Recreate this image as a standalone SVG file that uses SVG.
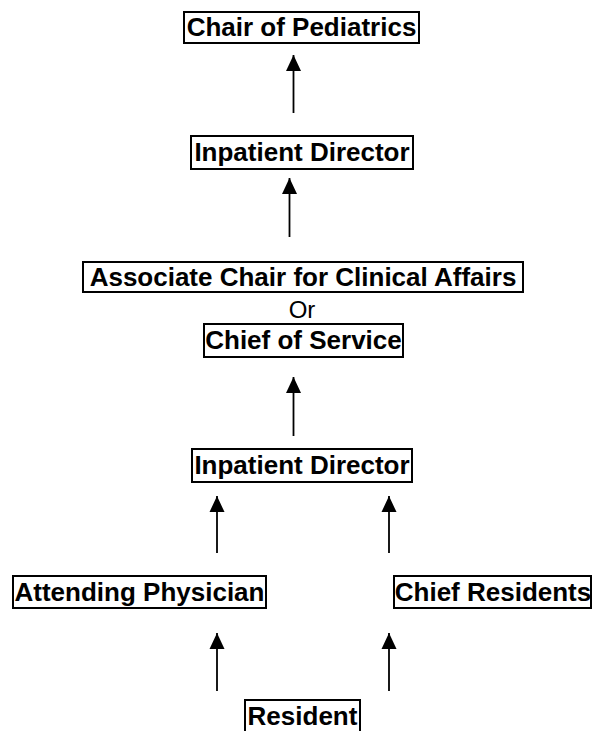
<svg xmlns="http://www.w3.org/2000/svg" width="592" height="731" viewBox="0 0 592 731">
<style>
.box{fill:#fff;stroke:#000;stroke-width:2}
.lbl{font-family:"Liberation Sans",Arial,sans-serif;font-weight:bold;font-size:26px;text-anchor:middle;fill:#000}
.or{font-family:"Liberation Sans",Arial,sans-serif;font-size:24px;text-anchor:middle;fill:#000}
.con{stroke:#000;stroke-width:1.8;fill:none;marker-end:url(#ah)}
</style>
<defs>
<marker id="ah" markerUnits="userSpaceOnUse" markerWidth="16" markerHeight="18" refX="16" refY="7.5" orient="auto" viewBox="0 0 16 15">
<path d="M0,0 L16,7.5 L0,15 Z" fill="#000"/>
</marker>
</defs>
<rect width="592" height="731" fill="#fff"/>
<g id="connectors">
<line class="con" x1="293.5" y1="113" x2="293.5" y2="55"/>
<line class="con" x1="289.5" y1="237" x2="289.5" y2="178"/>
<line class="con" x1="293.5" y1="436" x2="293.5" y2="377"/>
<line class="con" x1="217" y1="553" x2="217" y2="496"/>
<line class="con" x1="389" y1="553" x2="389" y2="496"/>
<line class="con" x1="217" y1="691" x2="217" y2="633"/>
<line class="con" x1="389" y1="691" x2="389" y2="633"/>
</g>
<g id="chair">
<rect class="box" x="184" y="12" width="235" height="31"/>
<text class="lbl" x="301.5" y="36">Chair of Pediatrics</text>
</g>
<g id="inpatient1">
<rect class="box" x="191" y="136" width="222" height="33"/>
<text class="lbl" x="302" y="161">Inpatient Director</text>
</g>
<g id="associate">
<rect class="box" x="83" y="262" width="440" height="30"/>
<text class="lbl" x="303" y="286">Associate Chair for Clinical Affairs</text>
</g>
<g id="or">
<text class="or" x="302" y="318">Or</text>
</g>
<g id="chief-service">
<rect class="box" x="204" y="324" width="199" height="33"/>
<text class="lbl" x="303.5" y="349">Chief of Service</text>
</g>
<g id="inpatient2">
<rect class="box" x="192" y="449" width="220" height="33"/>
<text class="lbl" x="302" y="474">Inpatient Director</text>
</g>
<g id="attending">
<rect class="box" x="13" y="576" width="253" height="32"/>
<text class="lbl" x="139.5" y="601">Attending Physician</text>
</g>
<g id="chief-residents">
<rect class="box" x="394" y="576" width="197" height="32"/>
<text class="lbl" x="493" y="601">Chief Residents</text>
</g>
<g id="resident">
<rect class="box" x="245" y="700" width="115" height="33"/>
<text class="lbl" x="302.5" y="725">Resident</text>
</g>
</svg>
